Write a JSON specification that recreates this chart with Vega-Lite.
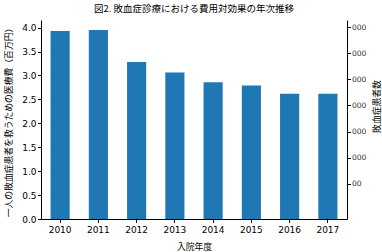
{
  "$schema": "https://vega.github.io/schema/vega-lite/v6.json",
  "width": 306,
  "height": 199,
  "autosize": {"type": "none"},
  "padding": {"left": 41, "top": 20, "right": 35, "bottom": 33},
  "title": {
    "text": "図2. 敗血症診療における費用対効果の年次推移",
    "font": "Noto Sans CJK JP",
    "fontSize": 9.5,
    "fontWeight": "normal",
    "color": "#000000",
    "anchor": "middle",
    "offset": 7
  },
  "config": {
    "view": {"stroke": null},
    "axis": {
      "domainColor": "#000000",
      "tickColor": "#000000",
      "labelColor": "#000000",
      "titleColor": "#000000",
      "labelFont": "DejaVu Sans",
      "labelFontSize": 9,
      "titleFont": "Noto Sans CJK JP",
      "titleFontSize": 8.8,
      "titleFontWeight": "normal",
      "tickSize": 3.5,
      "grid": false
    }
  },
  "data": {
    "values": [
      {"year": "2010", "cost": 3.93},
      {"year": "2011", "cost": 3.95},
      {"year": "2012", "cost": 3.28},
      {"year": "2013", "cost": 3.06},
      {"year": "2014", "cost": 2.86},
      {"year": "2015", "cost": 2.79},
      {"year": "2016", "cost": 2.62},
      {"year": "2017", "cost": 2.62}
    ]
  },
  "layer": [
    {
      "mark": {"type": "bar", "color": "#1f77b4"},
      "encoding": {
        "x": {
          "field": "year",
          "type": "ordinal",
          "scale": {"paddingInner": 0.5, "paddingOuter": 0.25},
          "axis": {
            "title": "入院年度",
            "labelAngle": 0,
            "labelPadding": 3,
            "titlePadding": 8
          }
        },
        "y": {
          "field": "cost",
          "type": "quantitative",
          "scale": {"domain": [0, 4.16], "nice": false},
          "axis": {
            "title": "一人の敗血症患者を救うための医療費（百万円）",
            "values": [0, 0.5, 1, 1.5, 2, 2.5, 3, 3.5, 4],
            "format": ".1f",
            "labelPadding": 1.5,
            "titleAngle": -90,
            "titleX": -33,
            "titleY": 100,
            "titleAlign": "center",
            "titleBaseline": "middle"
          }
        }
      }
    },
    {
      "mark": {"type": "bar", "opacity": 0},
      "encoding": {
        "x": {"field": "year", "type": "ordinal"},
        "y": {
          "field": "cost",
          "type": "quantitative",
          "scale": {"domain": [-174, 3634], "nice": false},
          "axis": {
            "orient": "right",
            "title": "敗血症患者数",
            "values": [500, 1000, 1500, 2000, 2500, 3000, 3500],
            "format": "d",
            "labelExpr": "datum.value < 1000 ? '00' : '000'",
            "labelFontSize": 7.5,
            "labelColor": "#333333",
            "labelPadding": 1,
            "titleAngle": -90,
            "titleX": 29,
            "titleY": 86,
            "titleAlign": "center",
            "titleBaseline": "middle"
          }
        }
      }
    }
  ],
  "resolve": {"scale": {"y": "independent"}}
}
